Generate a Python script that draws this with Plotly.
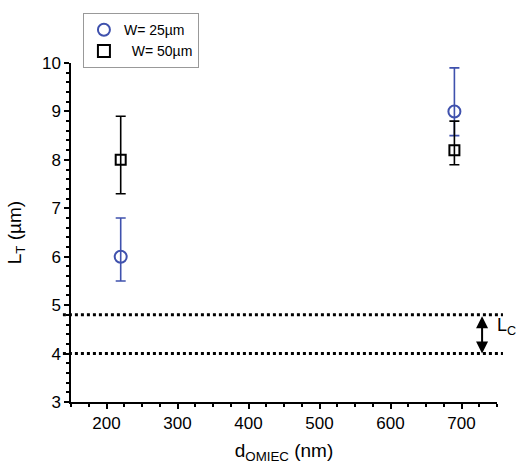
import plotly.graph_objects as go

x_vals = [220, 690]
w25_y = [6.0, 9.0]
w25_up = [0.8, 0.9]
w25_down = [0.5, 0.5]
w50_y = [8.0, 8.2]
w50_up = [0.9, 0.6]
w50_down = [0.7, 0.3]
lc_top = 4.8
lc_bottom = 4.0
lc_arrow_x = 729

blue = "#3f51ad"
font_family = "Liberation Sans, Arial, sans-serif"

fig = go.Figure()
fig.add_trace(go.Scatter(
    x=x_vals, y=w25_y, mode="markers", name="W= 25µm",
    marker=dict(symbol="circle-open", size=12, color=blue, line=dict(width=2, color=blue)),
    error_y=dict(type="data", symmetric=False, array=w25_up, arrayminus=w25_down,
                 color=blue, thickness=1.6, width=5),
))
fig.add_trace(go.Scatter(
    x=x_vals, y=w50_y, mode="markers", name="  W= 50µm",
    marker=dict(symbol="square-open", size=10, color="black", line=dict(width=2, color="black")),
    error_y=dict(type="data", symmetric=False, array=w50_up, arrayminus=w50_down,
                 color="black", thickness=1.6, width=5),
))

for yv in [lc_top, lc_bottom]:
    fig.add_shape(type="line", xref="paper", yref="y", x0=-0.019, x1=1.014, y0=yv, y1=yv,
                  line=dict(color="black", width=3, dash="dot"))

fig.add_annotation(x=lc_arrow_x, y=lc_bottom, ax=lc_arrow_x, ay=lc_top, xref="x", yref="y",
                   axref="x", ayref="y", showarrow=True, arrowhead=2, startarrowhead=2,
                   arrowside="end+start", arrowsize=1.2, arrowwidth=2, arrowcolor="black", text="")
fig.add_annotation(x=0.995, y=(lc_top + lc_bottom) / 2 + 0.15, xref="paper", yref="y",
                   text="L<sub>C</sub>", showarrow=False, xanchor="left",
                   font=dict(size=18, color="black", family=font_family))

fig.update_layout(
    width=517, height=464,
    margin=dict(l=71, r=20, t=63, b=62, autoexpand=False),
    paper_bgcolor="white", plot_bgcolor="white",
    font=dict(family=font_family, size=17, color="black"),
    showlegend=True,
    legend=dict(x=0.028, y=1.147, xanchor="left", yanchor="top", bgcolor="white",
                bordercolor="#999999", borderwidth=1, font=dict(size=14),
                itemsizing="constant", tracegroupgap=0, itemwidth=30),
    xaxis=dict(range=[150, 750], tickvals=[200, 300, 400, 500, 600, 700],
               showline=True, linecolor="black", linewidth=1.5, ticks="outside",
               ticklen=5, tickwidth=1.5, tickcolor="black", showgrid=False, zeroline=False,
               minor=dict(dtick=25, ticks="outside", ticklen=3, tickcolor="black"),
               title=dict(text="d<sub>OMIEC</sub> (nm)", font=dict(size=19))),
    yaxis=dict(range=[3, 10], dtick=1,
               showline=True, linecolor="black", linewidth=1.5, ticks="outside",
               ticklen=5, tickwidth=1.5, tickcolor="black", showgrid=False, zeroline=False,
               minor=dict(dtick=0.2, ticks="outside", ticklen=3, tickcolor="black"),
               title=dict(text="L<sub>T</sub> (µm)", font=dict(size=19))),
)

fig.write_html("out.html", config={"displayModeBar": False},
               post_script="document.body.style.margin='0';")
